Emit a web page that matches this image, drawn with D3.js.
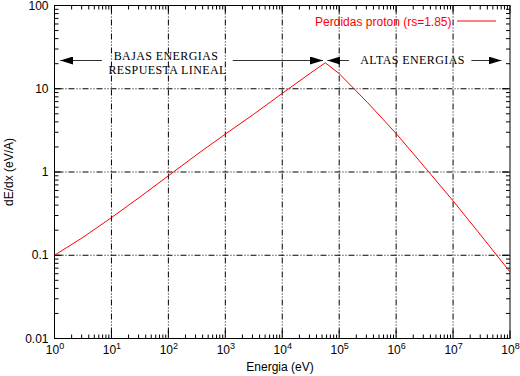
<!DOCTYPE html>
<html>
<head>
<meta charset="utf-8">
<script src="https://cdn.jsdelivr.net/npm/d3@7"></script>
<style>
  body{margin:0;background:#fff;}
  svg{display:block;font-family:"Liberation Sans",Arial,sans-serif;}
  .tick-label{font-size:12px;fill:#000;}
  .anno{font-family:"Liberation Serif","Times New Roman",serif;font-size:12px;fill:#000;letter-spacing:0.4px;}
</style>
</head>
<body>
<div id="chart"></div>
<script>
// energy (eV) and stopping power dE/dx (eV/A)
var energia=[1,3.16,10,31.6,100,316,1000,3162,10000,31620,57000,100000,316200,1000000,3162000,10000000,31620000,100000000];
var perdidas=[0.1,0.164,0.283,0.5,0.9,1.62,2.85,4.95,8.8,15.5,20.5,15.2,6.8,2.9,1.15,0.45,0.17,0.063];
var xDecades=[0,1,2,3,4,5,6,7,8];
var yTicks=[0.01,0.1,1,10,100];
var yTickLabels=['0.01','0.1','1','10','100'];
var serieLabel='Perdidas proton (rs=1.85)';

(function drawChart(){
    'use strict';
    var W=520,H=376;
    var margin={top:5.5,right:10,bottom:37.5,left:54.5};
    var w=W-margin.left-margin.right,
        h=H-margin.top-margin.bottom;

    var svg=d3.select('#chart').append('svg')
        .attr('width',W).attr('height',H);
    var g=svg.append('g')
        .attr('transform','translate('+margin.left+','+margin.top+')');

    var x=d3.scaleLog().domain([1,1e8]).range([0,w]);
    var y=d3.scaleLog().domain([0.01,100]).range([h,0]);

    // minor ticks 2..9 in every decade
    var xMinor=[],yMinor=[];
    xDecades.slice(0,-1).forEach(function(d){
        for(var k=2;k<10;k++) xMinor.push(k*Math.pow(10,d));
    });
    yTicks.slice(0,-1).forEach(function(d){
        for(var k=2;k<10;k++) yMinor.push(k*d);
    });
    var xMajor=xDecades.map(function(d){return Math.pow(10,d);});

    // grid
    var grid=g.append('g').attr('class','grid')
        .attr('stroke','#000').attr('stroke-width',1)
        .attr('stroke-dasharray','6,2,1,2,1,2');
    grid.selectAll('.gx').data(xMajor.slice(1,-1)).enter().append('line')
        .attr('x1',function(d){return x(d);}).attr('x2',function(d){return x(d);})
        .attr('y1',0).attr('y2',h);
    grid.selectAll('.gy').data(yTicks.slice(1,-1)).enter().append('line')
        .attr('y1',function(d){return y(d);}).attr('y2',function(d){return y(d);})
        .attr('x1',0).attr('x2',w);

    // ticks, mirrored on all sides, pointing inwards
    var ticks=g.append('g').attr('stroke','#000').attr('stroke-width',1);
    function xTick(v,len){
        ticks.append('line').attr('x1',x(v)).attr('x2',x(v)).attr('y1',h).attr('y2',h-len);
        ticks.append('line').attr('x1',x(v)).attr('x2',x(v)).attr('y1',0).attr('y2',len);
    }
    function yTick(v,len){
        ticks.append('line').attr('y1',y(v)).attr('y2',y(v)).attr('x1',0).attr('x2',len);
        ticks.append('line').attr('y1',y(v)).attr('y2',y(v)).attr('x1',w).attr('x2',w-len);
    }
    xMinor.forEach(function(v){xTick(v,4);});
    xMajor.forEach(function(v){xTick(v,8);});
    yMinor.forEach(function(v){yTick(v,4);});
    yTicks.forEach(function(v){yTick(v,8);});

    // frame
    g.append('rect').attr('width',w).attr('height',h)
        .attr('fill','none').attr('stroke','#000').attr('stroke-width',1);

    // tick labels
    g.selectAll('.ylab').data(yTicks).enter().append('text')
        .attr('class','tick-label')
        .attr('x',-6).attr('y',function(d){return y(d)+4;})
        .attr('text-anchor','end')
        .text(function(d,i){return yTickLabels[i];});
    var xl=g.selectAll('.xlab').data(xDecades).enter().append('text')
        .attr('class','tick-label')
        .attr('x',function(d){return x(Math.pow(10,d))+0.5;})
        .attr('y',h+15)
        .attr('text-anchor','middle');
    xl.append('tspan').text('10');
    xl.append('tspan').attr('dy',-5).attr('font-size','9px').text(function(d){return d;});

    // axis titles
    svg.append('text').attr('class','tick-label')
        .attr('x',280).attr('y',371)
        .attr('text-anchor','middle').text('Energia (eV)');
    svg.append('text').attr('class','tick-label')
        .attr('transform','translate(13,'+(margin.top+h/2)+') rotate(-90)')
        .attr('text-anchor','middle').text('dE/dx (eV/A)');

    // data line
    var pts=energia.map(function(e,i){return [e,perdidas[i]];});
    var line=d3.line()
        .x(function(d){return x(d[0]);})
        .y(function(d){return y(d[1]);});
    g.append('path').datum(pts)
        .attr('d',line).attr('fill','none')
        .attr('stroke','#ff0000').attr('stroke-width',1);

    // legend
    g.append('text').attr('class','tick-label')
        .attr('x',451.5-margin.left).attr('y',25.5-margin.top)
        .attr('text-anchor','end')
        .style('fill','#ff0000').text(serieLabel);
    g.append('line')
        .attr('x1',457-margin.left).attr('x2',496-margin.left)
        .attr('y1',21-margin.top).attr('y2',21-margin.top)
        .attr('stroke','#ff0000').attr('stroke-width',1);

    // annotation arrows: [tail, tip] in energy units
    var ay=55;
    var defs=svg.append('defs');
    defs.append('marker').attr('id','head')
        .attr('viewBox','0 0 13 8').attr('refX',13).attr('refY',4)
        .attr('markerWidth',13).attr('markerHeight',8)
        .attr('markerUnits','userSpaceOnUse').attr('orient','auto')
        .append('path').attr('d','M0,0L13,4L0,8Z').attr('fill','#000');
    var arrows=[[6.8,1.26],[1350,52000],[1.48e5,6.2e4],[2.1e7,7.1e7]];
    g.selectAll('.arrow').data(arrows).enter().append('line')
        .attr('x1',function(d){return x(d[0]);})
        .attr('x2',function(d){return x(d[1]);})
        .attr('y1',ay).attr('y2',ay)
        .attr('stroke','#333').attr('stroke-width',1)
        .attr('marker-end','url(#head)');

    g.append('text').attr('class','anno')
        .attr('x',x(91)).attr('y',y(22)).attr('text-anchor','middle')
        .text('BAJAS ENERGIAS');
    g.append('text').attr('class','anno')
        .attr('x',x(97)).attr('y',y(15)).attr('text-anchor','middle')
        .text('RESPUESTA LINEAL');
    g.append('text').attr('class','anno')
        .attr('x',x(1.94e6)).attr('y',y(19.7)).attr('text-anchor','middle')
        .text('ALTAS ENERGIAS');
})();
</script>
</body>
</html>
